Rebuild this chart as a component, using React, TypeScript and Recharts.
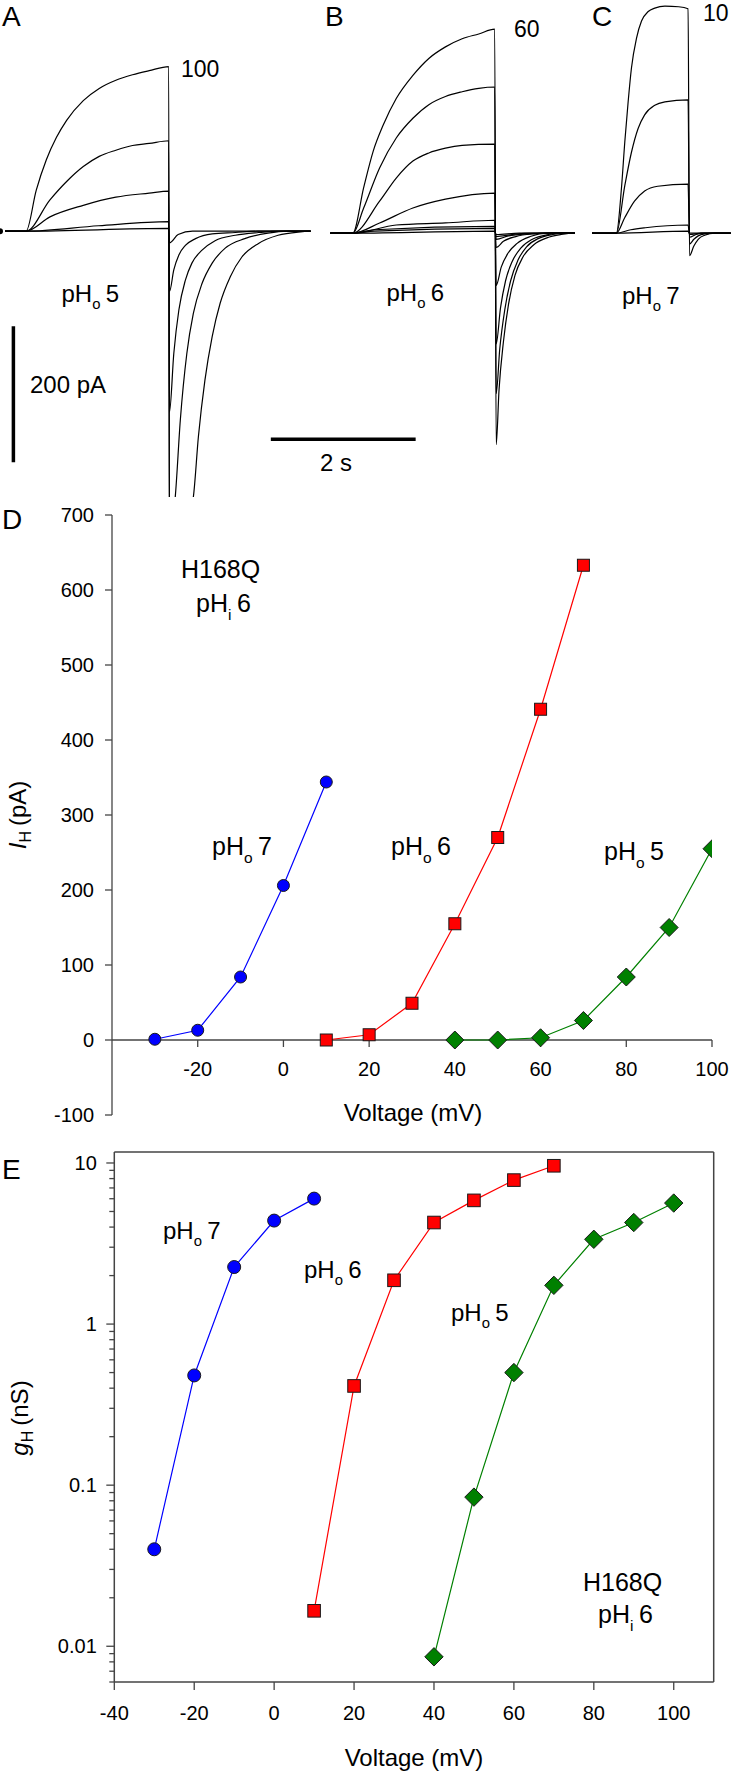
import React from 'react';
import { LineChart, Line, XAxis, YAxis, ReferenceLine, ReferenceDot } from 'recharts';

const FONT = '"Liberation Sans", Arial, Helvetica, sans-serif';
const AXIS = '#444';

// --- panel D / E: voltage steps (mV) ---
const voltPh7 = [-30, -20, -10, 0, 10];
const voltPh6 = [10, 20, 30, 40, 50, 60, 70];
const voltPh5 = [40, 50, 60, 70, 80, 90, 100];

// panel D: proton current (pA)
const currentPh7 = [1, 13, 84, 206, 344];
const currentPh6 = [0, 7, 49, 155, 270, 441, 633];
const currentPh5 = [0, 0, 3, 26, 84, 150, 255];

// panel E: conductance (nS)
const condPh7 = [0.04, 0.48, 2.26, 4.39, 6.01];
const condPh6 = [0.0166, 0.413, 1.87, 4.27, 5.86, 7.83, 9.61];
const condPh5 = [0.0086, 0.0843, 0.5, 1.74, 3.36, 4.27, 5.64];

// tick labels
const currentTicks = [-100, 0, 100, 200, 300, 400, 500, 600, 700];
const voltTicksD = [-20, 0, 20, 40, 60, 80, 100];
const voltTicksE = [-40, -20, 0, 20, 40, 60, 80, 100];
const condMajorTicks = [0.01, 0.1, 1, 10];
const condMinorTicks = [
  0.006, 0.007, 0.008, 0.009,
  0.02, 0.03, 0.04, 0.05, 0.06, 0.07, 0.08, 0.09,
  0.2, 0.3, 0.4, 0.5, 0.6, 0.7, 0.8, 0.9,
  2, 3, 4, 5, 6, 7, 8, 9,
];

// --- current traces [time s, current pA] ---
const tracesA: [number, number][][] = [
  [[-0.36, 0], [0, 0], [0.14, 60], [0.28, 105], [0.42, 138], [0.56, 163], [0.79, 192], [1.01, 210], [1.24, 222], [1.47, 230], [1.7, 236], [1.97, 242],
   [1.98, -520], [2.31, -391], [2.38, -302], [2.47, -219], [2.57, -155], [2.68, -106], [2.82, -67], [2.98, -38], [3.21, -18], [3.48, -6], [3.79, -1], [3.93, 0]],
  [[-0.36, 0], [0, 0], [0.33, 46], [0.56, 73], [0.79, 95], [1.01, 110], [1.24, 119], [1.47, 126], [1.7, 129], [1.97, 133],
   [1.98, -450], [2.06, -391], [2.13, -278], [2.22, -180], [2.31, -121], [2.43, -77], [2.57, -47], [2.75, -25], [3.02, -11], [3.34, -3], [3.6, 0], [3.93, 0]],
  [[-0.36, 0], [0, 0], [0.33, 21], [0.79, 38], [1.24, 50], [1.7, 56], [1.97, 59],
   [1.98, -266], [2.04, -180], [2.11, -116], [2.2, -72], [2.29, -47], [2.43, -28], [2.61, -14], [2.89, -6], [3.21, -2], [3.5, 0], [3.93, 0]],
  [[-0.36, 0], [0, 0], [1, 8], [1.97, 14],
   [1.98, -89], [2.04, -57], [2.11, -35], [2.2, -21], [2.34, -11], [2.57, -4], [2.89, -2], [3.2, 0], [3.93, 0]],
  [[-0.36, 0], [0, 0], [1.97, 4], [1.98, -17], [2.1, -5], [2.3, 0], [3.93, 0]],
];

const tracesB: [number, number][][] = [
  [[-0.31, 0], [0, 0], [0.15, 67], [0.28, 120], [0.42, 159], [0.6, 198], [0.83, 232], [1.05, 257], [1.28, 274], [1.51, 286], [1.74, 293], [1.96, 300],
   [1.98, -311], [2.02, -230], [2.08, -160], [2.15, -105], [2.24, -62], [2.35, -35], [2.5, -17], [2.68, -7], [2.88, -2], [3.05, 0], [3.07, 0]],
  [[-0.31, 0], [0, 0], [0.15, 37], [0.37, 96], [0.6, 140], [0.83, 169], [1.05, 189], [1.28, 201], [1.51, 208], [1.74, 213], [1.96, 215],
   [1.98, -236], [2.03, -170], [2.1, -112], [2.18, -70], [2.28, -40], [2.4, -20], [2.56, -8], [2.76, -2], [2.95, 0], [3.07, 0]],
  [[-0.31, 0], [0, 0], [0.37, 47], [0.6, 81], [0.83, 106], [1.05, 118], [1.28, 125], [1.51, 129], [1.96, 131],
   [1.98, -163], [2.04, -110], [2.11, -70], [2.2, -42], [2.32, -22], [2.48, -9], [2.7, -2], [2.9, 0], [3.07, 0]],
  [[-0.31, 0], [0, 0], [0.37, 15], [0.83, 37], [1.28, 50], [1.96, 59],
   [1.98, -77], [2.05, -50], [2.14, -30], [2.27, -15], [2.45, -5], [2.7, 0], [3.07, 0]],
  [[-0.31, 0], [0, 0], [0.6, 12], [1.28, 15], [1.96, 19], [1.98, -21], [2.08, -12], [2.25, -5], [2.5, -1], [2.7, 0], [3.07, 0]],
  [[-0.31, 0], [0, 0], [0.3, 5], [1.96, 10], [1.98, -9], [2.15, -4], [2.45, -1], [2.65, 0], [3.07, 0]],
  [[-0.31, 0], [0, 0], [0.3, 3], [1.96, 7], [1.98, -5], [2.2, -2], [2.5, 0], [3.07, 0]],
  [[-0.31, 0], [0, 0], [1.96, 3], [1.98, -2], [2.3, 0], [3.07, 0]],
];

const tracesC: [number, number][][] = [
  [[-0.34, 0], [0, 0], [0.069, 65], [0.116, 134], [0.162, 193], [0.208, 243], [0.278, 287], [0.347, 312], [0.44, 326], [0.53, 331], [0.67, 334], [0.86, 333], [0.99, 330],
   [1.01, -33], [1.07, -19], [1.13, -9], [1.22, -3], [1.36, 0], [1.58, 0]],
  [[-0.34, 0], [0, 0], [0.116, 70], [0.208, 119], [0.3, 154], [0.39, 174], [0.53, 188], [0.67, 193], [0.99, 196],
   [1.01, -16], [1.07, -9], [1.13, -4], [1.22, -1], [1.36, 0], [1.58, 0]],
  [[-0.34, 0], [0, 0], [0.116, 23], [0.25, 47], [0.39, 62], [0.57, 69], [0.99, 72], [1.01, -6], [1.1, -2], [1.22, 0], [1.58, 0]],
  [[-0.34, 0], [0, 0], [0.2, 5], [0.4, 8], [0.99, 12], [1.01, -2], [1.17, 0], [1.58, 0]],
  [[-0.34, 0], [0, 0], [0.99, 3], [1.01, 0], [1.58, 0]],
];

const toRows = (pts: [number, number][]) => pts.map(([t, i]) => ({ t, i }));
const zipRows = (xs: number[], ys: number[]) => xs.map((v, k) => ({ v, y: ys[k] }));

function Marker(props: any) {
  const { cx, cy, shape, fill, size } = props;
  if (cx == null || cy == null) return null;
  const stroke = '#1a1a1a';
  if (shape === 'circle') return <circle cx={cx} cy={cy} r={size} fill={fill} stroke={stroke} strokeWidth={1} />;
  if (shape === 'square')
    return <rect x={cx - size} y={cy - size} width={size * 2} height={size * 2} fill={fill} stroke={stroke} strokeWidth={1} />;
  const pts = `${cx},${cy - size} ${cx + size},${cy} ${cx},${cy + size} ${cx - size},${cy}`;
  return <polygon points={pts} fill={fill} stroke={stroke} strokeWidth={1} />;
}

const series = [
  { key: 'ph7', volt: voltPh7, cur: currentPh7, cond: condPh7, color: '#0000ff', shape: 'circle', dSize: 6, eSize: 6.5 },
  { key: 'ph6', volt: voltPh6, cur: currentPh6, cond: condPh6, color: '#ff0000', shape: 'square', dSize: 6, eSize: 6.3 },
  { key: 'ph5', volt: voltPh5, cur: currentPh5, cond: condPh5, color: '#008000', shape: 'diamond', dSize: 9, eSize: 9.2 },
];

function TracePanel({ traces, left, top, width, domainX, bars }: any) {
  return (
    <div style={{ position: 'absolute', left, top, width, height: 497 }}>
      <LineChart width={width} height={497} margin={{ top: 0, right: 0, bottom: 0, left: 0 }}>
        <XAxis type="number" dataKey="t" domain={domainX} hide allowDataOverflow />
        <YAxis type="number" domain={[-391, 340]} hide allowDataOverflow />
        {traces.map((tr: [number, number][], k: number) => (
          <Line key={k} data={toRows(tr)} dataKey="i" type="monotone" stroke="#000" strokeWidth={1.2}
            dot={false} isAnimationActive={false} />
        ))}
        {bars && (
          <ReferenceLine segment={[{ x: -0.175, y: -340 }, { x: -0.175, y: -140 }]} stroke="#000" strokeWidth={3.5} />
        )}
        {bars && (
          <ReferenceLine segment={[{ x: 3.38, y: -306 }, { x: 5.38, y: -306 }]} stroke="#000" strokeWidth={3.5} />
        )}
      </LineChart>
    </div>
  );
}

function CondTick(props: any) {
  const { x, y, payload } = props;
  const major = condMajorTicks.includes(payload.value);
  return (
    <g>
      <line x1={x - (major ? 8 : 5)} x2={x} y1={y} y2={y} stroke={AXIS} strokeWidth={1.3} />
      {major && (
        <text x={x - 17.5} y={y} dy="0.355em" textAnchor="end" fontSize={20} fontFamily={FONT} fill="#000">
          {payload.value}
        </text>
      )}
    </g>
  );
}

function PH({ x, y, sub, val, size = 24 }: any) {
  return (
    <text x={x} y={y} fontSize={size}>
      pH<tspan fontSize={size * 0.62} dy={size * 0.3}>{sub}</tspan>
      <tspan dy={-size * 0.3} dx={size * 0.22}>{val}</tspan>
    </text>
  );
}

export default function App() {
  return (
    <div style={{ position: 'absolute', left: 0, top: 0, width: 731, height: 1772, overflow: 'hidden', background: '#fff', fontFamily: FONT }}>
      <TracePanel traces={tracesA} left={0} top={0} width={420} domainX={[-0.36, 5.44]} bars />
      <TracePanel traces={tracesB} left={330} top={2} width={245} domainX={[-0.315, 3.069]} />
      <TracePanel traces={tracesC} left={592} top={2} width={139} domainX={[-0.337, 1.583]} />

      {/* D: current-voltage */}
      <div style={{ position: 'absolute', left: 0, top: 480, width: 731, height: 660 }}>
        <LineChart width={731} height={660} margin={{ top: 35, right: 19, bottom: 25, left: 52 }}>
          <XAxis type="number" dataKey="v" domain={[-40, 100]} hide allowDataOverflow />
          <YAxis type="number" domain={[-100, 700]} ticks={currentTicks} interval={0} width={60}
            tickSize={7} tickMargin={11} allowDataOverflow
            axisLine={{ stroke: AXIS, strokeWidth: 1.3 }} tickLine={{ stroke: AXIS, strokeWidth: 1.3 }}
            tick={{ fill: '#000', fontSize: 20, fontFamily: FONT }} />
          <ReferenceLine y={0} stroke={AXIS} strokeWidth={1.3} />
          {voltTicksD.map((v) => (
            <ReferenceLine key={`t${v}`} segment={[{ x: v, y: 0 }, { x: v, y: -9.3 }]} stroke={AXIS} strokeWidth={1.3} />
          ))}
          {voltTicksD.map((v) => (
            <ReferenceDot key={`l${v}`} x={v} y={0} r={0} fill="none" stroke="none"
              label={{ value: String(v), position: 'bottom', offset: 21.5, fill: '#000', fontSize: 20, fontFamily: FONT }} />
          ))}
          {series.map((s) => (
            <Line key={s.key} data={zipRows(s.volt, s.cur)} dataKey="y" stroke={s.color} strokeWidth={1.2}
              isAnimationActive={false}
              dot={(p: any) => <Marker key={`${s.key}-${p.index}`} cx={p.cx} cy={p.cy} shape={s.shape} fill={s.color} size={s.dSize} />} />
          ))}
        </LineChart>
      </div>

      {/* E: conductance-voltage */}
      <div style={{ position: 'absolute', left: 0, top: 1130, width: 731, height: 642 }}>
        <LineChart width={731} height={642} margin={{ top: 22, right: 17.3, bottom: 50, left: 54.3 }}>
          <XAxis type="number" dataKey="v" domain={[-40, 110]} ticks={voltTicksE} interval={0} height={40}
            tickSize={8} tickMargin={16} allowDataOverflow
            axisLine={{ stroke: AXIS, strokeWidth: 1.5 }} tickLine={{ stroke: AXIS, strokeWidth: 1.3 }}
            tick={{ fill: '#000', fontSize: 20, fontFamily: FONT }} />
          <YAxis type="number" scale="log" domain={[0.006, 11.7]} ticks={[...condMajorTicks, ...condMinorTicks]}
            interval={0} width={60} tickSize={0} tickMargin={0} tickLine={false} allowDataOverflow
            axisLine={{ stroke: AXIS, strokeWidth: 1.5 }} tick={(p: any) => <CondTick {...p} />} />
          <ReferenceLine y={11.7} stroke={AXIS} strokeWidth={1.5} />
          <ReferenceLine x={110} stroke={AXIS} strokeWidth={1.5} />
          {series.map((s) => (
            <Line key={s.key} data={zipRows(s.volt, s.cond)} dataKey="y" stroke={s.color} strokeWidth={1.2}
              isAnimationActive={false}
              dot={(p: any) => <Marker key={`${s.key}-${p.index}`} cx={p.cx} cy={p.cy} shape={s.shape} fill={s.color} size={s.eSize} />} />
          ))}
        </LineChart>
      </div>

      {/* annotations */}
      <svg width={731} height={1772} style={{ position: 'absolute', left: 0, top: 0, pointerEvents: 'none' }}
        fontFamily={FONT} fill="#000">
        <text x={2} y={25.5} fontSize={28}>A</text>
        <text x={325} y={25.5} fontSize={28}>B</text>
        <text x={592} y={25.5} fontSize={28}>C</text>
        <text x={181} y={76.5} fontSize={23}>100</text>
        <text x={514} y={36.5} fontSize={23}>60</text>
        <text x={703} y={21} fontSize={23}>10</text>
        <PH x={61.5} y={302} sub="o" val="5" />
        <PH x={386.5} y={301} sub="o" val="6" />
        <PH x={622} y={304} sub="o" val="7" />
        <text x={30} y={393} fontSize={24}>200 pA</text>
        <text x={320} y={471} fontSize={24}>2 s</text>

        <text x={2} y={529} fontSize={28}>D</text>
        <text x={181} y={578} fontSize={25}>H168Q</text>
        <PH x={196} y={612} sub="i" val="6" size={25} />
        <PH x={212} y={855} sub="o" val="7" size={25} />
        <PH x={391} y={855} sub="o" val="6" size={25} />
        <PH x={604} y={860} sub="o" val="5" size={25} />
        <text x={413} y={1121} fontSize={24} textAnchor="middle">Voltage (mV)</text>
        <text x={26} y={815} fontSize={24} textAnchor="middle" transform="rotate(-90, 26, 815)">
          <tspan fontStyle="italic">I</tspan>
          <tspan fontSize={16} dy={5}>H</tspan>
          <tspan dy={-5} dx={5}>(pA)</tspan>
        </text>

        <text x={2} y={1179} fontSize={28}>E</text>
        <PH x={163} y={1239} sub="o" val="7" size={24} />
        <PH x={304} y={1278} sub="o" val="6" size={24} />
        <PH x={451} y={1321} sub="o" val="5" size={24} />
        <text x={583} y={1591} fontSize={25}>H168Q</text>
        <PH x={598} y={1623} sub="i" val="6" size={25} />
        <text x={414} y={1766} fontSize={24} textAnchor="middle">Voltage (mV)</text>
        <text x={28} y={1418} fontSize={24} textAnchor="middle" transform="rotate(-90, 28, 1418)">
          <tspan fontStyle="italic">g</tspan>
          <tspan fontSize={16} dy={5}>H</tspan>
          <tspan dy={-5} dx={5}>(nS)</tspan>
        </text>
      </svg>
    </div>
  );
}
